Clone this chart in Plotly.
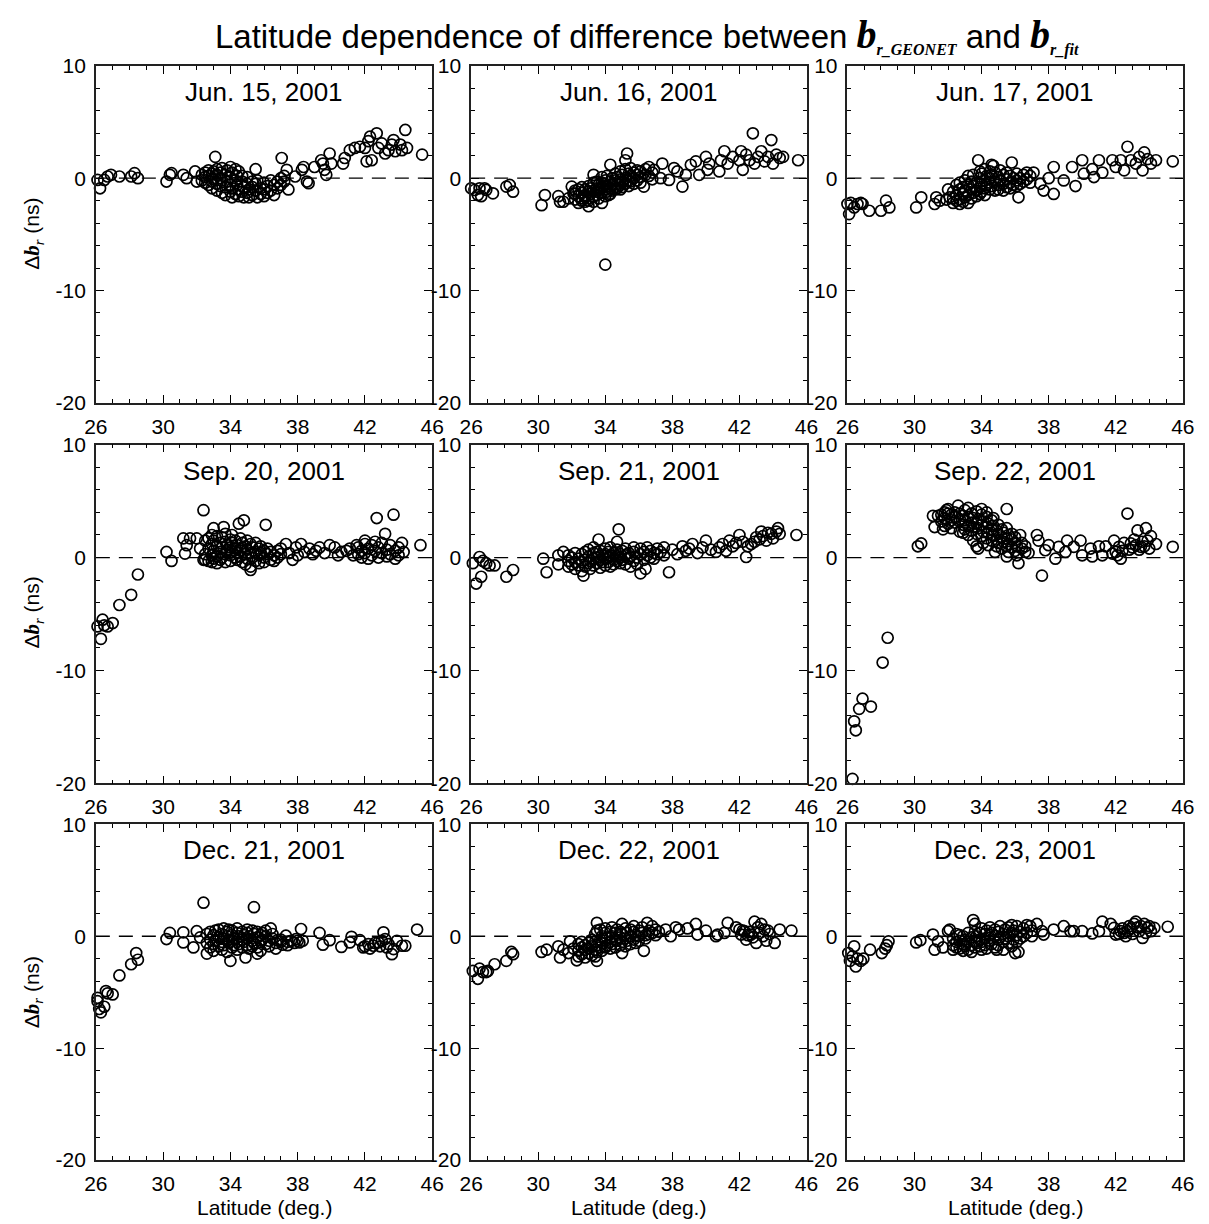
import plotly.graph_objects as go

W, H = 1209, 1224
# the page photo maps figure px -> screen px as screen = OFF + SCALE * fig
OFF, SCALE = 20.0, 0.982

panel_titles = ["Jun. 15, 2001", "Jun. 16, 2001", "Jun. 17, 2001",
                "Sep. 20, 2001", "Sep. 21, 2001", "Sep. 22, 2001",
                "Dec. 21, 2001", "Dec. 22, 2001", "Dec. 23, 2001"]

x_ticks = [26, 30, 34, 38, 42, 46]
y_ticks = [-20, -10, 0, 10]
y_tick_text = ["-20", "-10", "0", "10"]

# (latitude in deg, delta b_r in ns)
jun15 = [(26.1,-0.15),(26.25,-0.9),(26.5,-0.15),(26.7,0.15),(26.9,0.3),(27.4,0.15),(28.1,0.15),(28.3,0.45),(28.5,0.0),
         (30.2,-0.3),(30.4,0.3),(30.5,0.45),(31.2,0.3),(31.4,0.0),(31.9,0.6),(32.0,-0.3),(33.1,1.9),
         (32.3,0.3),(32.3,-0.2),(32.5,0.5),(32.5,-0.4),(32.5,0.1),(32.7,0.2),(32.7,-0.6),(32.7,0.7),(32.9,-0.3),(32.9,0.4),(32.9,-0.9),
         (33.0,0.6),(33.0,-0.1),(33.2,-0.5),(33.2,0.3),(33.2,-1.1),(33.2,0.8),(33.4,0.0),(33.4,-0.7),(33.4,0.5),(33.5,-1.3),(33.5,0.9),(33.5,-0.2),
         (33.7,0.3),(33.7,-0.8),(33.7,-1.5),(33.8,0.7),(33.8,-0.3),(34.0,1.0),(34.0,0.1),(34.0,-0.6),(34.0,-1.2),(34.1,0.5),(34.1,-0.9),(34.1,-1.7),
         (34.3,0.8),(34.3,-0.2),(34.3,-1.4),(34.4,0.2),(34.4,-0.6),(34.5,-1.0),(34.5,0.6),(34.5,-1.6),(34.7,-0.3),(34.7,-1.2),(34.7,0.2),
         (34.8,-0.8),(34.8,-1.7),(35.0,0.1),(35.0,-0.5),(35.0,-1.3),(35.1,-1.0),(35.1,-1.7),(35.3,-0.3),(35.3,-0.8),(35.3,-1.5),
         (35.5,0.8),(35.5,-1.1),(35.5,-0.5),(35.6,-1.7),(35.6,-0.2),(35.8,-0.9),(35.8,-1.4),(36.0,-0.4),(36.0,-1.6),(36.0,-1.0),
         (36.2,-0.7),(36.2,-1.3),(36.4,-0.2),(36.4,-1.1),(36.6,-0.6),(36.6,-1.5),(36.8,-0.3),(36.8,-0.9),(37.0,0.0),(37.0,-0.6),(37.2,-0.3),(37.2,0.2),
         (37.05,1.8),(37.35,0.75),(37.45,-1.0),(37.85,0.15),(38.25,0.75),(38.35,1.0),(38.55,-0.3),(38.65,-0.45),
         (39.0,1.0),(39.4,1.6),(39.5,1.3),(39.6,0.75),(39.7,0.3),(39.9,2.2),(40.0,1.3),(40.7,1.3),(40.8,1.8),(41.1,2.5),(41.4,2.7),
         (41.7,2.8),(42.0,2.7),(42.2,3.3),(42.3,3.7),(42.1,1.5),(42.4,1.6),(42.7,4.0),(42.8,2.7),(43.0,3.1),(43.2,2.2),(43.4,2.5),
         (43.6,3.0),(43.7,3.4),(43.8,2.4),(44.1,3.0),(44.2,2.5),(44.4,4.3),(44.5,2.7),(45.4,2.1)]

jun16 = [(26.0,-0.9),(26.2,-1.05),(26.4,-1.5),(26.5,-0.9),(26.6,-1.6),(26.8,-0.9),(26.9,-1.05),(27.3,-1.35),
         (28.1,-0.75),(28.3,-0.6),(28.5,-1.2),(30.2,-2.4),(30.4,-1.5),(31.2,-1.6),(31.3,-2.1),(31.5,-2.1),(31.8,-1.8),(32.0,-0.75),(32.1,-1.35),
         (32.2,-1.9),(32.2,-1.4),(32.2,-1.1),(32.4,-1.6),(32.4,-2.2),(32.4,-1.0),(32.6,-1.8),(32.6,-1.3),(32.6,-2.0),(32.6,-0.8),
         (32.8,-1.5),(32.8,-2.1),(32.8,-1.0),(32.8,-1.7),(33.0,-1.2),(33.0,-1.8),(33.0,-0.7),(33.0,-2.0),(33.1,-1.4),(33.1,-0.9),
         (33.3,-1.6),(33.3,-0.4),(33.3,-1.1),(33.3,-2.1),(33.5,-0.9),(33.5,-1.5),(33.5,-0.3),(33.5,-1.2),(33.6,-0.6),(33.6,-1.8),(33.6,-1.0),
         (33.8,-0.4),(33.8,-1.3),(33.8,-0.8),(33.8,0.1),(34.0,-1.0),(34.0,-0.5),(34.0,-1.6),(34.0,-0.2),(34.1,-0.7),(34.1,-1.2),(34.1,0.2),
         (34.3,-0.3),(34.3,-0.9),(34.3,-1.4),(34.4,-0.6),(34.4,0.0),(34.4,-1.1),(34.6,-0.2),(34.6,-0.8),(34.6,0.4),(34.6,-1.0),
         (34.7,-0.5),(34.7,0.1),(34.7,-0.9),(34.9,-0.1),(34.9,-0.6),(34.9,0.6),(34.9,-1.0),(35.0,-0.4),(35.0,0.3),(35.0,-0.8),
         (35.2,0.0),(35.2,-0.5),(35.2,0.8),(35.4,-0.2),(35.4,0.4),(35.4,-0.7),(35.5,0.2),(35.5,-0.3),(35.5,0.9),(35.7,0.0),(35.7,-0.5),(35.7,0.5),
         (35.9,0.3),(35.9,-0.2),(35.9,0.7),(36.1,0.1),(36.1,0.6),(36.1,-0.4),(36.4,0.3),(36.4,0.8),(36.6,0.2),(36.6,1.0),(36.8,0.5),(36.8,-0.1),
         (33.0,-2.5),(33.3,0.3),(33.8,-2.2),(34.0,-7.7),(34.2,-1.5),(34.3,1.2),(35.3,2.2),(35.2,1.6),
         (36.3,-0.75),(36.9,0.75),(37.3,0.0),(37.4,1.3),(37.8,-0.15),(38.1,0.9),(38.3,0.6),(38.6,-0.75),(38.8,0.3),
         (39.1,1.2),(39.4,1.5),(39.6,0.3),(40.0,1.9),(40.1,0.75),(40.2,1.3),(40.8,0.6),(40.9,1.6),(41.1,2.4),(41.3,1.3),(41.6,1.9),
         (42.0,1.6),(42.1,2.4),(42.2,0.75),(42.4,2.1),(42.6,1.6),(42.8,4.0),(42.9,1.3),(43.1,1.9),(43.3,2.4),(43.5,1.5),(43.7,1.9),
         (43.9,3.4),(44.0,1.3),(44.2,2.1),(44.4,1.8),(44.6,1.9),(45.5,1.6)]

jun17 = [(26.0,-2.3),(26.1,-3.2),(26.2,-2.2),(26.4,-2.6),(26.6,-2.3),(26.8,-2.2),(26.9,-2.3),(27.3,-2.9),(28.0,-2.9),(28.3,-2.0),(28.5,-2.6),
         (30.1,-2.6),(30.4,-1.7),(31.2,-2.3),(31.3,-1.7),(31.5,-2.0),(31.9,-1.9),(32.0,-1.0),(32.1,-1.7),
         (32.3,-1.8),(32.3,-1.2),(32.3,-2.2),(32.5,-1.5),(32.5,-0.6),(32.5,-2.0),(32.7,-1.9),(32.7,-1.0),(32.7,-0.4),(32.7,-2.3),
         (32.9,-1.4),(32.9,-0.8),(32.9,-2.1),(33.0,-1.1),(33.0,-0.2),(33.0,-1.7),(33.2,-0.6),(33.2,-1.5),(33.2,-2.2),(33.2,0.2),
         (33.4,-1.0),(33.4,-0.3),(33.4,-1.8),(33.5,-0.7),(33.5,-1.3),(33.5,0.3),(33.7,-0.4),(33.7,-1.1),(33.7,-1.6),
         (33.9,0.0),(33.9,-0.8),(33.9,-1.4),(33.9,0.6),(34.0,-0.5),(34.0,-1.2),(34.0,0.4),(34.2,-0.2),(34.2,-0.9),(34.2,0.8),(34.2,-1.5),
         (34.3,-0.6),(34.3,0.2),(34.5,0.0),(34.5,-1.0),(34.5,0.6),(34.5,-0.4),(34.6,-0.7),(34.6,0.3),(34.6,1.2),(34.8,-0.3),(34.8,-1.1),(34.8,0.5),
         (35.0,0.1),(35.0,-0.6),(35.0,-1.0),(35.1,-0.2),(35.1,0.7),(35.3,-0.5),(35.3,0.3),(35.3,-1.1),(35.5,-0.1),(35.5,-0.8),(35.5,0.5),
         (35.7,-0.4),(35.7,0.2),(35.7,-0.9),(35.9,-0.6),(35.9,0.0),(36.1,-0.2),(36.1,0.4),(36.1,-0.7),(36.3,0.0),(36.3,-0.5),
         (36.5,0.3),(36.5,-0.3),(36.7,-0.1),(36.7,0.5),(36.9,0.2),(36.9,-0.4),
         (33.8,1.6),(34.7,1.1),(35.8,1.4),(36.2,-1.7),
         (37.1,0.5),(37.5,-0.5),(37.7,-1.1),(38.0,0.0),(38.3,1.0),(38.3,-1.4),(38.9,-0.2),(39.4,1.0),(39.6,-0.7),(40.0,1.6),(40.1,0.4),
         (40.6,0.8),(40.7,0.1),(41.0,1.6),(41.2,0.5),(41.8,1.6),(42.0,1.0),(42.3,1.6),(42.7,2.8),(42.5,0.7),(42.9,1.6),(43.2,1.3),
         (43.4,1.9),(43.6,0.7),(43.7,2.3),(43.9,1.7),(44.1,1.3),(44.4,1.6),(45.4,1.5)]

sep20 = [(26.1,-6.1),(26.3,-7.2),(26.4,-5.5),(26.5,-6.0),(26.7,-6.1),(27.0,-5.8),(27.4,-4.2),(28.1,-3.3),(28.5,-1.5),
         (30.2,0.5),(30.5,-0.3),(31.2,1.7),(31.3,0.35),(31.4,1.1),(31.6,1.7),(32.0,1.7),(32.4,4.2),(32.2,0.8),(32.4,-0.2),
         (32.5,1.5),(32.5,0.3),(32.5,-0.2),(32.7,0.8),(32.7,1.7),(32.7,-0.3),(32.9,0.2),(32.9,1.2),(32.9,-0.4),(32.9,2.0),
         (33.0,0.6),(33.0,1.5),(33.0,-0.1),(33.2,1.0),(33.2,0.1),(33.2,1.9),(33.2,-0.5),(33.4,0.5),(33.4,1.3),(33.4,-0.2),
         (33.5,0.9),(33.5,1.8),(33.5,0.0),(33.7,1.4),(33.7,0.3),(33.7,-0.4),(33.7,2.1),(33.8,0.7),(33.8,1.1),
         (34.0,0.2),(34.0,1.6),(34.0,0.9),(34.0,-0.3),(34.1,1.3),(34.1,0.5),(34.1,2.0),(34.3,0.8),(34.3,0.0),(34.3,1.5),
         (34.4,1.1),(34.4,-0.2),(34.4,0.4),(34.6,1.7),(34.6,0.6),(34.6,0.1),(34.7,0.9),(34.7,1.3),(34.7,-0.4),
         (34.9,0.3),(34.9,1.0),(34.9,-0.6),(35.0,0.7),(35.0,1.5),(35.0,-0.1),(35.2,0.4),(35.2,1.2),(35.2,-0.8),(35.3,0.9),(35.3,0.0),
         (35.5,0.5),(35.5,1.3),(35.5,-0.3),(35.7,0.2),(35.7,0.8),(35.7,-0.5),(35.8,1.0),(35.8,0.4),(36.0,0.0),(36.0,0.6),(36.0,-0.4),
         (36.2,0.8),(36.2,0.3),(36.4,-0.2),(36.4,0.5),(36.6,0.2),(36.6,-0.3),(36.8,0.0),(36.8,0.6),
         (33.0,2.6),(33.6,2.7),(34.5,3.0),(34.8,3.3),(36.1,2.9),(35.2,-1.1),
         (37.0,0.3),(37.0,0.8),(37.3,1.2),(37.5,0.4),(37.7,-0.2),(37.9,0.9),(38.0,0.2),(38.2,1.2),(38.4,0.5),(38.7,0.8),(38.9,0.3),
         (39.1,0.6),(39.3,0.9),(39.6,0.4),(39.9,1.1),(40.2,0.9),(40.4,0.2),(40.6,0.5),(40.9,0.6),(41.1,0.8),(41.3,0.2),(41.5,1.1),
         (41.6,0.3),(41.6,0.9),(41.8,0.0),(41.8,0.6),(42.0,1.5),(42.0,1.2),(42.0,0.4),(42.2,0.8),(42.2,-0.1),(42.4,0.2),(42.4,1.1),
         (42.6,0.6),(42.6,1.4),(42.7,3.5),(42.8,0.0),(42.8,0.9),(43.0,0.4),(43.0,1.3),(43.2,2.1),(43.3,0.7),(43.3,0.1),
         (43.5,1.1),(43.5,0.3),(43.7,3.8),(43.8,0.6),(43.8,-0.1),(44.0,0.9),(44.0,0.2),(44.2,1.3),(44.3,0.5),(45.3,1.1)]

sep21 = [(26.1,-0.5),(26.3,-2.3),(26.5,0.05),(26.6,-1.7),(26.7,-0.3),(26.9,-0.5),(27.1,-0.7),(27.4,-0.7),(28.1,-1.7),(28.5,-1.1),
         (30.3,-0.1),(30.5,-1.3),(31.2,0.2),(31.2,-0.6),(31.5,0.5),
         (31.8,-0.3),(31.8,0.2),(31.8,-0.8),(32.0,0.0),(32.0,-0.6),(32.2,-0.4),(32.2,0.4),(32.2,-1.0),(32.4,-0.1),(32.4,-0.7),
         (32.6,0.3),(32.6,-0.4),(32.6,-1.2),(32.8,-0.2),(32.8,0.5),(32.8,-0.8),(33.0,0.1),(33.0,-0.5),(33.0,0.7),(33.1,-0.3),(33.1,-1.0),
         (33.3,0.4),(33.3,-0.1),(33.3,-0.7),(33.3,0.9),(33.5,0.0),(33.5,-0.5),(33.5,0.5),(33.7,-0.2),(33.7,0.6),(33.7,-0.9),(33.8,0.2),(33.8,-0.4),
         (34.0,0.8),(34.0,-0.1),(34.0,-0.7),(34.0,0.3),(34.2,0.0),(34.2,0.5),(34.2,-0.4),(34.3,-0.8),(34.3,0.9),(34.3,0.2),
         (34.5,-0.2),(34.5,0.4),(34.5,-0.6),(34.7,0.1),(34.7,0.7),(34.7,-0.3),(34.9,-0.5),(34.9,0.3),(34.9,0.0),(35.0,0.6),(35.0,-0.2),
         (35.2,0.2),(35.2,-0.6),(35.2,0.8),(35.4,-0.1),(35.4,0.4),(35.5,-0.8),(35.5,0.1),(35.7,0.5),(35.7,-0.3),(35.7,0.9),(35.9,0.0),(35.9,-0.6),
         (36.1,0.3),(36.1,0.8),(36.3,-0.2),(36.3,0.5),(36.5,0.2),(36.5,0.9),(36.7,0.0),(36.7,0.6),(36.9,0.4),(36.9,-0.1),(37.1,0.3),(37.1,0.8),
         (37.3,0.5),(37.5,0.2),(37.5,0.9),
         (33.6,1.6),(34.8,2.5),(34.7,1.4),(32.7,-1.6),(36.1,-1.4),(36.4,-1.0),(37.8,-1.3),
         (38.0,0.7),(38.6,1.0),(39.2,1.2),(39.5,0.4),(40.0,1.5),(40.6,0.5),(41.0,1.2),(41.4,1.5),(42.0,2.0),(42.4,0.05),(42.7,1.2),
         (43.0,1.8),(43.3,2.3),(43.6,1.5),(43.9,2.1),(44.3,2.6),(44.4,2.1),(45.4,2.0),
         (38.3,0.3),(38.8,0.6),(39.0,0.8),(39.8,0.9),(40.3,0.7),(40.8,0.9),(41.2,0.6),(41.6,1.0),(41.8,1.3),(42.2,1.4),(42.5,1.0),
         (42.9,1.4),(43.2,1.6),(43.4,1.9),(43.7,2.2),(44.0,1.7),(44.2,2.3)]

sep22 = [(26.3,-19.6),(26.4,-14.5),(26.5,-15.3),(26.7,-13.4),(26.9,-12.5),(27.4,-13.2),(28.1,-9.3),(28.4,-7.1),
         (30.2,1.0),(30.4,1.25),(31.1,3.7),(31.2,2.7),(31.4,3.7),(31.7,2.5),(31.9,4.2),(32.6,4.6),
         (31.6,3.8),(31.6,3.2),(31.8,3.5),(31.8,4.0),(31.8,2.8),(32.0,3.9),(32.0,3.0),(32.0,4.3),(32.2,3.3),(32.2,3.8),(32.2,2.6),
         (32.4,4.0),(32.4,3.1),(32.4,3.6),(32.7,3.4),(32.7,2.3),(32.7,3.9),(32.9,2.9),(32.9,3.7),(32.9,2.2),(33.0,4.2),(33.0,3.3),(33.0,2.5),
         (33.2,3.6),(33.2,2.8),(33.2,4.4),(33.2,2.0),(33.4,3.1),(33.4,3.9),(33.4,2.4),(33.5,2.7),(33.5,3.5),(33.5,1.5),
         (33.7,4.1),(33.7,3.0),(33.7,2.1),(33.7,1.0),(33.8,3.4),(33.8,2.6),(33.8,0.8),(34.0,3.8),(34.0,2.9),(34.0,1.9),(34.0,4.3),
         (34.1,3.2),(34.1,2.3),(34.1,1.3),(34.3,3.6),(34.3,2.7),(34.3,1.7),(34.3,4.0),(34.4,3.0),(34.4,2.2),(34.4,1.1),
         (34.6,3.3),(34.6,2.5),(34.6,1.5),(34.7,2.8),(34.7,2.0),(34.7,3.5),(34.9,2.4),(34.9,1.6),(34.9,1.0),(35.0,2.9),(35.0,2.1),(35.0,1.3),
         (35.2,2.5),(35.2,1.8),(35.2,0.8),(35.3,2.2),(35.3,1.4),(35.5,2.6),(35.5,1.7),(35.5,1.0),(35.6,2.0),(35.6,1.2),(35.6,0.5),
         (35.8,1.6),(35.8,0.9),(35.8,2.1),(36.0,1.3),(36.0,0.6),(36.0,1.8),(36.1,1.0),(36.1,0.2),(36.4,0.8),(36.4,1.3),(36.6,0.5),(36.6,1.0),
         (35.5,4.3),(34.8,0.5),(35.5,0.1),(36.2,-0.5),(36.3,2.0),
         (36.8,0.4),(37.3,2.0),(37.4,1.5),(37.6,-1.6),(37.8,0.65),(38.0,1.1),(38.4,-0.1),(38.6,0.95),(39.0,0.5),(39.1,1.5),(39.5,0.95),
         (39.9,1.5),(40.0,0.2),(40.5,0.8),(40.6,0.1),(41.0,1.0),(41.2,0.2),(41.4,1.0),(41.8,0.35),(41.9,1.5),(42.2,0.95),(42.3,-0.1),
         (42.7,3.9),(42.9,1.25),(43.1,1.6),(43.3,2.4),(43.5,0.95),(43.8,2.6),(43.9,1.5),(44.1,1.9),(44.4,1.2),(45.4,0.95),
         (42.0,0.5),(42.1,0.2),(42.4,0.6),(42.5,1.3),(42.8,0.7),(43.0,0.9),(43.2,1.1),(43.4,0.7),(43.6,1.4),(43.7,1.0),(44.0,0.8)]

dec21 = [(26.1,-5.5),(26.1,-5.8),(26.2,-6.5),(26.3,-6.8),(26.5,-6.3),(26.6,-4.9),(26.7,-5.1),(27.0,-5.2),(27.4,-3.5),(28.1,-2.5),(28.4,-1.5),(28.5,-2.1),
         (30.2,-0.25),(30.4,0.3),(31.2,0.35),(31.2,-0.55),(31.8,-1.0),(32.0,0.45),(32.2,-0.1),(32.4,3.0),(32.6,-1.55),
         (32.6,0.2),(32.6,-0.6),(32.8,-0.3),(32.8,0.4),(32.8,-1.0),(33.0,-0.7),(33.0,0.1),(33.0,-1.3),(33.1,0.5),(33.1,-0.4),
         (33.3,-0.1),(33.3,-0.9),(33.3,0.6),(33.5,-0.5),(33.5,0.2),(33.5,-1.2),(33.6,0.7),(33.6,-0.2),(33.6,-0.8),
         (33.8,0.0),(33.8,-1.4),(33.8,0.4),(33.9,-0.6),(33.9,0.6),(33.9,-0.3),(34.1,0.1),(34.1,-1.0),(34.1,-0.4),(34.1,0.5),
         (34.2,-0.2),(34.2,-0.8),(34.4,0.3),(34.4,-0.5),(34.4,-1.2),(34.4,0.7),(34.5,0.0),(34.5,-0.7),(34.7,-0.3),(34.7,0.4),(34.7,-1.0),
         (34.8,0.1),(34.8,-0.5),(35.0,-0.8),(35.0,0.3),(35.0,-0.2),(35.0,0.6),(35.1,-1.1),(35.1,0.0),(35.3,-0.4),(35.3,0.5),(35.3,-0.9),
         (35.4,0.2),(35.4,-0.6),(35.6,-0.1),(35.6,0.4),(35.6,-1.0),(35.8,-0.5),(35.8,0.1),(35.8,-1.3),(35.9,0.3),(35.9,-0.3),
         (36.1,-0.7),(36.1,0.0),(36.1,0.5),(36.3,-0.4),(36.3,-0.9),(36.5,-0.2),(36.5,0.2),(36.7,-0.6),(36.7,-1.1),(37.0,-0.3),(37.0,-0.5),
         (37.4,-0.8),(37.4,-0.5),(37.8,-0.6),(38.0,-0.4),
         (34.0,-2.2),(34.9,-1.9),(35.4,2.6),(35.6,-1.55),(36.4,0.7),
         (36.8,-0.35),(37.1,-0.75),(37.3,0.05),(37.6,-0.4),(37.9,-0.25),(38.1,-0.55),(38.2,0.65),(38.3,-0.4),
         (39.3,0.3),(39.5,-0.75),(39.9,-0.35),(40.6,-0.95),(41.1,-0.55),(41.2,-0.05),(41.7,-0.35),(41.9,-1.0),(42.2,-0.7),(42.5,-0.85),
         (42.8,-0.55),(43.1,0.35),(43.2,-0.25),(43.4,-0.7),(43.6,-1.6),(43.7,-1.15),(43.9,-0.4),(44.2,-0.85),(44.4,-0.85),(45.1,0.6),
         (42.0,-0.9),(42.3,-1.1),(42.6,-0.6),(42.9,-0.9),(43.0,-0.4),(43.3,-1.0)]

dec22 = [(25.85,-4.3),(26.1,-3.1),(26.4,-3.8),(26.5,-2.9),(26.7,-3.2),(26.9,-3.2),(27.0,-3.1),(27.4,-2.5),(28.1,-2.2),(28.4,-1.4),(28.5,-1.6),
         (30.2,-1.4),(30.5,-1.2),(31.2,-0.9),(31.3,-1.9),(31.5,-1.2),(31.8,-1.5),(31.9,-0.45),(32.1,-1.1),(32.3,-2.15),
         (32.4,-1.3),(32.4,-0.7),(32.4,-1.8),(32.6,-1.0),(32.6,-1.6),(32.6,-0.5),(32.8,-1.2),(32.8,-1.9),(32.8,-0.8),
         (33.0,-1.5),(33.0,-0.6),(33.0,-1.1),(33.2,-0.9),(33.2,-1.7),(33.2,-0.3),(33.4,-1.2),(33.4,-0.5),(33.4,-1.8),(33.4,0.2),
         (33.5,-0.8),(33.5,0.5),(33.5,-1.4),(33.7,-0.3),(33.7,-1.0),(33.7,0.6),(33.8,-0.6),(33.8,0.0),(33.8,-1.3),
         (34.0,0.3),(34.0,-0.4),(34.0,-1.0),(34.0,0.7),(34.1,-0.8),(34.1,-0.1),(34.3,0.4),(34.3,-0.5),(34.3,-1.1),
         (34.4,0.0),(34.4,-0.7),(34.4,0.8),(34.6,-0.3),(34.6,0.3),(34.6,-1.0),(34.7,0.6),(34.7,-0.4),(34.9,-0.1),(34.9,0.4),(34.9,-0.8),
         (35.0,0.2),(35.0,-0.5),(35.2,-0.2),(35.2,0.7),(35.2,-0.9),(35.3,0.3),(35.3,-0.4),(35.5,0.0),(35.5,0.6),(35.5,-0.7),
         (35.7,0.4),(35.7,-0.3),(35.7,0.9),(35.8,0.1),(35.8,-0.6),(36.0,0.5),(36.0,0.0),(36.0,-0.4),(36.2,0.3),(36.2,0.8),
         (36.4,0.1),(36.4,-0.2),(36.6,0.5),(36.6,0.2),(36.8,0.3),(36.8,0.9),(37.0,0.6),(37.0,0.1),(37.2,0.4),
         (33.5,1.2),(33.5,-2.2),(35.0,1.1),(36.5,1.2),(35.0,-1.5),(36.3,-1.3),
         (37.6,0.6),(37.9,0.0),(38.2,0.8),(38.4,0.6),(38.9,0.7),(39.4,1.1),(39.5,0.15),(40.0,0.5),(40.6,0.0),(40.7,0.15),(41.1,0.3),
         (41.3,1.2),(41.8,0.8),(42.0,0.6),(42.1,0.15),(42.3,0.45),(42.4,-0.3),(42.7,0.15),(42.9,1.3),(43.0,-0.6),(43.1,0.8),
         (43.3,1.1),(43.5,0.6),(43.6,-0.4),(43.8,0.2),(44.1,-0.6),(44.4,0.6),(45.1,0.5),
         (42.2,0.5),(42.5,0.1),(42.6,0.4),(42.8,-0.1),(43.2,0.3),(43.4,0.0),(43.7,0.5)]

dec23 = [(26.05,-1.5),(26.15,-2.2),(26.3,-1.8),(26.4,-0.9),(26.5,-2.7),(26.6,-2.0),(26.8,-2.2),(26.95,-2.0),(27.35,-1.2),
         (28.05,-1.5),(28.25,-1.1),(28.35,-0.8),(28.45,-0.45),(30.1,-0.55),(30.35,-0.35),
         (31.1,0.15),(31.2,-1.2),(31.4,-0.45),(31.7,-1.0),(32.0,0.45),(32.1,0.6),
         (32.3,-0.8),(32.3,-0.2),(32.3,-1.2),(32.5,-0.5),(32.5,0.2),(32.5,-1.0),(32.7,-1.1),(32.7,-0.4),(32.7,0.1),
         (32.9,-0.7),(32.9,-1.3),(32.9,0.0),(33.0,-0.3),(33.0,-0.9),(33.2,-1.2),(33.2,-0.5),(33.2,0.3),(33.4,-0.8),(33.4,-0.1),(33.4,-1.4),
         (33.6,-0.4),(33.6,0.4),(33.6,-1.0),(33.7,0.0),(33.7,-0.6),(33.9,-0.9),(33.9,0.3),(33.9,-0.3),(34.0,0.7),(34.0,-0.5),(34.0,-1.2),
         (34.2,-0.2),(34.2,0.2),(34.2,-0.8),(34.3,0.5),(34.3,-1.1),(34.5,-0.4),(34.5,0.1),(34.5,0.8),(34.6,-0.7),(34.6,0.3),
         (34.8,0.0),(34.8,-1.0),(34.8,0.6),(35.0,-0.3),(35.0,0.4),(35.0,-0.8),(35.1,0.9),(35.1,-0.1),(35.3,-0.5),(35.3,0.2),(35.3,-1.2),
         (35.4,0.6),(35.4,-0.2),(35.6,0.0),(35.6,0.8),(35.6,-0.6),(35.8,0.3),(35.8,-0.9),(35.8,1.0),(35.9,-0.3),(35.9,0.5),
         (36.1,0.1),(36.1,0.9),(36.1,-0.5),(36.3,0.4),(36.3,-0.2),(36.5,0.7),(36.5,0.0),(36.7,0.3),(36.7,1.0),(37.0,0.5),(37.0,0.0),
         (33.5,1.45),(33.6,1.1),(34.9,-1.2),(36.0,-1.5),(36.2,-1.4),
         (36.9,0.9),(37.3,1.1),(37.6,0.45),(37.7,0.15),(38.3,0.6),(38.9,0.9),(39.3,0.45),(39.5,0.45),(40.0,0.45),(40.6,0.25),(41.0,0.45),
         (41.2,1.3),(41.7,1.1),(41.9,0.75),(42.0,0.15),(42.3,0.45),(42.4,0.7),(42.6,0.0),(42.7,0.45),(42.9,0.7),(43.1,1.1),(43.2,1.3),
         (43.4,0.45),(43.6,-0.15),(43.7,1.1),(43.9,0.75),(44.1,0.45),(44.3,0.75),(45.1,0.85),
         (42.2,0.2),(42.5,0.3),(42.8,0.9),(43.0,0.2),(43.3,0.8),(43.5,0.9),(43.8,0.3),(44.0,0.9)]

panel_data = [jun15, jun16, jun17, sep20, sep21, sep22, dec21, dec22, dec23]

# panel boxes in screen pixels (left, right) / (top, bottom)
col_px = [(96, 433), (472, 808), (849, 1185)]
row_px = [(66, 403), (445, 784), (825, 1161)]


def px(x):
    return ((x - OFF) / SCALE) / W


def py(y):
    return 1 - ((y - OFF) / SCALE) / H


FONT = "Liberation Sans, Arial, sans-serif"
SERIF = "font-family:Liberation Serif"
fig = go.Figure()
layout = dict(width=W, height=H, margin=dict(l=0, r=0, t=0, b=0),
              paper_bgcolor="white", plot_bgcolor="white", showlegend=False,
              font=dict(family=FONT, color="black"))
annotations = []
shapes = []

for i, pts in enumerate(panel_data):
    r, c = divmod(i, 3)
    n = i + 1
    xa = "x" if n == 1 else f"x{n}"
    ya = "y" if n == 1 else f"y{n}"
    lat = [p[0] for p in pts]
    val = [p[1] for p in pts]
    fig.add_trace(go.Scatter(x=lat, y=val, mode="markers", xaxis=xa, yaxis=ya,
                             cliponaxis=False,
                             marker=dict(symbol="circle-open", size=11, color="black",
                                         line=dict(width=1.7, color="black"))))
    x0, x1 = col_px[c]
    y0, y1 = row_px[r]
    axkey_x = "xaxis" if n == 1 else f"xaxis{n}"
    axkey_y = "yaxis" if n == 1 else f"yaxis{n}"
    layout[axkey_x] = dict(domain=[px(x0), px(x1)], anchor=ya, range=[26, 46],
                           tickvals=x_ticks, ticks="inside", ticklen=8, tickwidth=1.2,
                           tickcolor="black", showline=True, linecolor="#222", linewidth=1.5,
                           mirror="allticks", showgrid=False, zeroline=False,
                           tickfont=dict(size=21, family=FONT),
                           minor=dict(dtick=1, tick0=26, ticks="inside", ticklen=4,
                                      tickwidth=1, tickcolor="black", showgrid=False),
                           ticklabelstandoff=4)
    layout[axkey_y] = dict(domain=[py(y1), py(y0)], anchor=xa, range=[-20, 10],
                           tickvals=y_ticks, ticktext=y_tick_text, ticks="inside", ticklen=8,
                           tickwidth=1.2, tickcolor="black", showline=True, linecolor="#222",
                           linewidth=1.5, mirror="allticks", showgrid=False, zeroline=False,
                           tickfont=dict(size=21, family=FONT),
                           minor=dict(dtick=2, tick0=-20, ticks="inside", ticklen=4,
                                      tickwidth=1, tickcolor="black", showgrid=False),
                           ticklabelstandoff=4)
    shapes.append(dict(type="line", xref=f"{xa} domain", yref=ya, x0=0, x1=1, y0=0, y1=0,
                       line=dict(color="black", width=1.3, dash="14px,9px"), layer="below"))
    annotations.append(dict(text=panel_titles[i], x=px((x0 + x1) / 2), y=py(y0 + 26),
                            xref="paper", yref="paper", showarrow=False,
                            xanchor="center", yanchor="middle",
                            font=dict(size=26, family=FONT)))
    if c == 0:
        annotations.append(dict(
            text=f"Δ<b><i><span style='{SERIF}'>b</span></i></b><sub><i><span style='{SERIF}'>r</span></i></sub> (ns)",
            x=px(33), y=py(y0 + 168), xref="paper", yref="paper", showarrow=False,
            textangle=-90, xanchor="center", yanchor="middle", font=dict(size=21, family=FONT)))
    if r == 2:
        annotations.append(dict(text="Latitude (deg.)", x=px((x0 + x1) / 2), y=py(1208),
                                xref="paper", yref="paper", showarrow=False,
                                xanchor="center", yanchor="middle", font=dict(size=21, family=FONT)))

title_text = ("Latitude dependence of difference between "
              f"<b><i><span style='{SERIF};font-size:40px'>b</span></i></b><sub><b><i><span style='{SERIF};font-size:16px'>r_GEONET</span></i></b></sub>"
              " and "
              f"<b><i><span style='{SERIF};font-size:40px'>b</span></i></b><sub><b><i><span style='{SERIF};font-size:16px'>r_fit</span></i></b></sub>")
annotations.append(dict(text=title_text, x=px(648), y=py(36), xref="paper", yref="paper",
                        showarrow=False, xanchor="center", yanchor="middle",
                        font=dict(size=33, family=FONT)))

layout["annotations"] = annotations
layout["shapes"] = shapes
fig.update_layout(**layout)
fig.write_html("out.html")
